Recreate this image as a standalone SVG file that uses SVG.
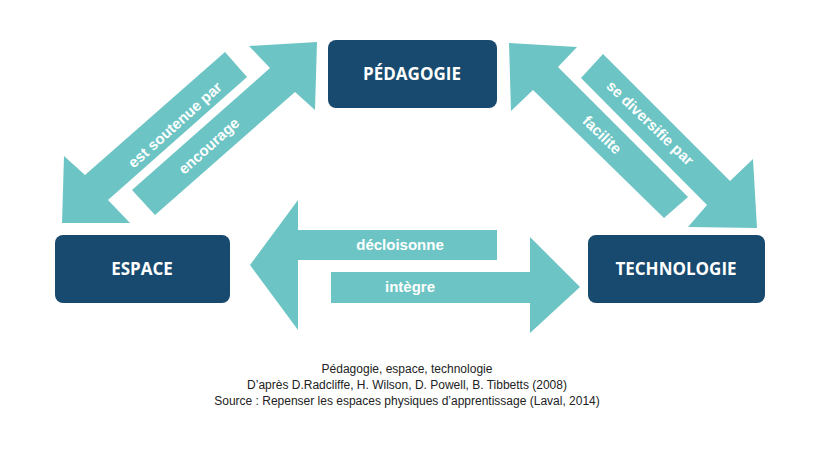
<svg xmlns="http://www.w3.org/2000/svg" width="815" height="473" viewBox="0 0 815 473">
<style>
.n{fill:#174a6e}
.nt{fill:#fff;font-family:"Open Sans","Liberation Sans",sans-serif;font-weight:bold;font-size:17px;text-anchor:middle}
.a{fill:#6cc5c4}
.l{fill:#fff;font-family:"Liberation Sans",Arial,sans-serif;font-weight:bold;font-size:15px;text-anchor:middle}
.c{fill:#222;font-family:"Liberation Sans",Arial,sans-serif;font-size:12px;text-anchor:middle}
</style>
<rect width="815" height="473" fill="#fff"/>
<g id="connectors">
<polygon class="a" points="225,52 247,77 108,200 130,223 62,223 64,156 85,175"/>
<polygon class="a" points="317,42 249,46 270,68 132,190 155,215 295,92 315,110"/>
<polygon class="a" points="509,43 577,47 558,67 688,197 664,218 533,90 511,111"/>
<polygon class="a" points="603,54 730,181 753,159 757,228 688,227 707,205 581,78"/>
<polygon class="a" points="250,265 298,200 298,230 497,230 497,260 298,260 298,330"/>
<polygon class="a" points="580,287 530,237 530,272 331,272 331,303 530,303 530,333"/>
<text class="l" transform="translate(175,125) rotate(-42)" dy="5">est soutenue par</text>
<text class="l" transform="translate(209,146) rotate(-42)" dy="5">encourage</text>
<text class="l" transform="translate(650,123) rotate(44)" dy="5">se diversifie par</text>
<text class="l" transform="translate(602,135) rotate(44)" dy="5">facilite</text>
<text class="l" x="400" y="250">décloisonne</text>
<text class="l" x="410" y="292">intègre</text>
</g>
<g id="pedagogie"><rect class="n" x="328" y="40" width="169" height="68" rx="8"/><text class="nt" x="412" y="80">PÉDAGOGIE</text></g>
<g id="espace"><rect class="n" x="55" y="235" width="175" height="68" rx="8"/><text class="nt" x="142" y="275">ESPACE</text></g>
<g id="technologie"><rect class="n" x="588" y="235" width="177" height="68" rx="8"/><text class="nt" x="676" y="275">TECHNOLOGIE</text></g>
<g id="caption">
<text class="c" x="407" y="373">Pédagogie, espace, technologie</text>
<text class="c" x="407" y="389">D’après D.Radcliffe, H. Wilson, D. Powell, B. Tibbetts (2008)</text>
<text class="c" x="407" y="405">Source : Repenser les espaces physiques d’apprentissage (Laval, 2014)</text>
</g>
</svg>
